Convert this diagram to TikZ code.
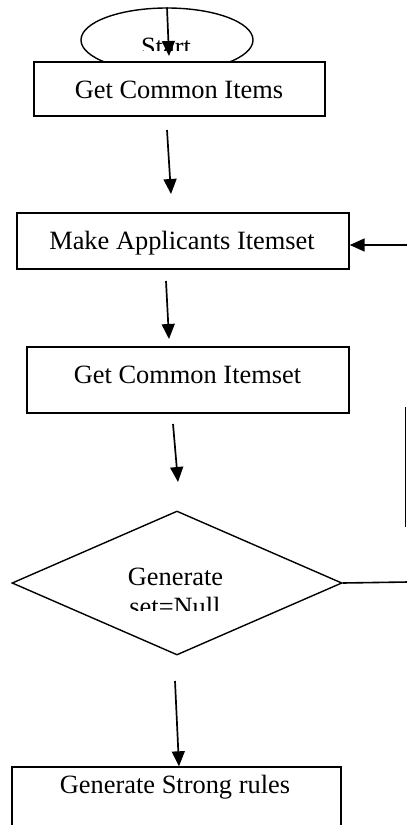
\documentclass[tikz,border=0pt]{standalone}
\usepackage{fontspec}
\setmainfont{Liberation Serif}
\usetikzlibrary{shapes.geometric,arrows.meta}
\begin{document}
\begin{tikzpicture}[x=1pt,y=-1pt,
  boxnode/.style={draw,fill=white,line width=1.4pt,inner sep=0pt,rectangle},
  txt/.style={inner sep=0pt,anchor=base,font=\fontsize{26.4}{30}\selectfont},
  arr/.style={line width=1.7pt,-{Triangle[length=15pt,width=13pt]}},
  ln/.style={line width=1.6pt}]
\useasboundingbox (0,0) rectangle (407,825);
\clip (0,0) rectangle (407,825);
% Start ellipse
\node[ellipse,draw,fill=white,line width=1.4pt,inner sep=0pt,minimum width=172pt,minimum height=64pt] (start) at (167,40) {};
\begin{scope}
\clip (100,20) rectangle (240,50);
\node[txt] (starttxt) at (166,55) {Start};
\end{scope}
% boxes
\node[boxnode,minimum width=291pt,minimum height=54pt] (b1) at (179.5,89) {};
\node[txt] (t1) at (179,98) {Get Common Items};
\node[boxnode,minimum width=332pt,minimum height=56pt] (b2) at (183,241) {};
\node[txt] (t2) at (182,249) {Make Applicants Itemset};
\node[boxnode,minimum width=322pt,minimum height=66pt] (b3) at (188,380) {};
\node[txt] (t3) at (187.5,383) {Get Common Itemset};
\node[diamond,draw,line width=1.4pt,inner sep=0pt,minimum width=330pt,minimum height=144pt] (d) at (177,583) {};
\node[txt] (t4) at (175.5,585) {Generate};
\begin{scope}
\clip (0,590) rectangle (407,610);
\node[txt] (t5) at (175,615) {set=Null};
\end{scope}
\node[boxnode,minimum width=329pt,minimum height=80pt] (b4) at (176.5,807) {};
\node[txt] (t6) at (175,793) {Generate Strong rules};
% free connector ends
\coordinate (a0s) at (start.north);
\coordinate (a0e) at (169,56);
\coordinate (a1s) at (167,130);
\coordinate (a1e) at (171,194);
\coordinate (a4s) at (166,281);
\coordinate (a4e) at (169,339);
\coordinate (a2s) at (173,424);
\coordinate (a2e) at (178,482);
\coordinate (a3s) at (175,681);
\coordinate (fbs) at (408,245);
\coordinate (fbe) at (b2.east |- fbs);
\coordinate (dr) at (408,582);
\coordinate (v1) at (405.5,407);
\coordinate (v2) at (405.5,527);
% connectors
\draw[arr] (a0s) -- (a0e);
\draw[arr] (a1s) -- (a1e);
\draw[arr] (a4s) -- (a4e);
\draw[arr] (a2s) -- (a2e);
\draw[arr] (a3s) -- (b4.north -| 179,0);
\draw[arr] (fbs) -- (fbe);
\draw[ln] (d.east) -- (dr);
\draw[ln] (v1) -- (v2);
\end{tikzpicture}
\end{document}
